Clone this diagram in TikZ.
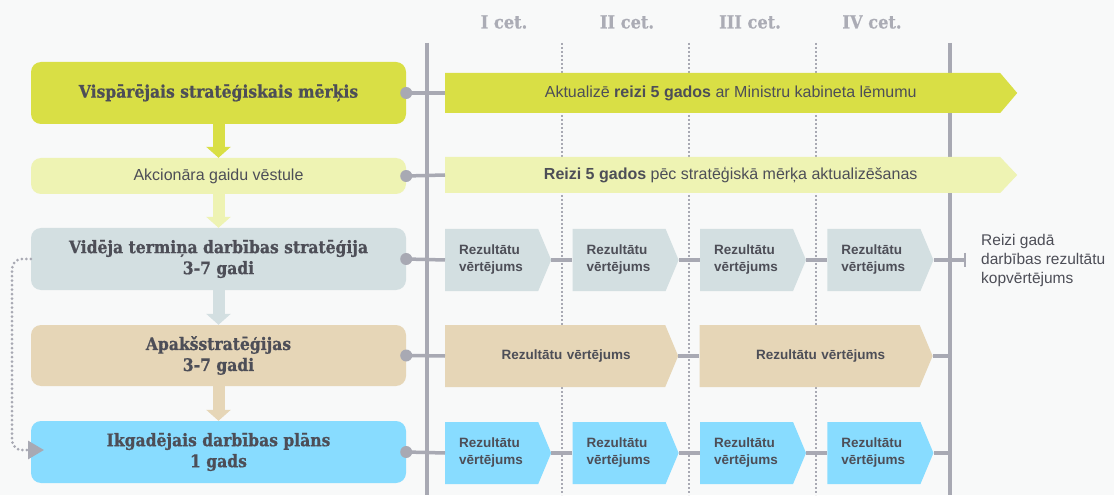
\documentclass[tikz,border=0pt]{standalone}
\usepackage{fontspec}
\setmainfont{Liberation Sans}
\newfontfamily\slab[FakeStretch=0.9, BoldFeatures={FakeBold=0.8}]{DejaVu Serif}
\usetikzlibrary{positioning,arrows.meta,shapes.symbols}
\definecolor{paper}{HTML}{F8F9F9}
\definecolor{lime}{HTML}{D9DF45}
\definecolor{limesoft}{HTML}{EEF3B3}
\definecolor{slate}{HTML}{D3DFE1}
\definecolor{sand}{HTML}{E6D6B7}
\definecolor{sky}{HTML}{88DCFF}
\definecolor{rail}{HTML}{A8A9B3}
\definecolor{ink}{HTML}{4D4E57}
\definecolor{muted}{HTML}{ABACB5}

\begin{document}
\begin{tikzpicture}[
    x=1pt, y=-1pt,
    lbox/.style={rounded corners=10pt, minimum width=375pt, minimum height=62pt,
                 inner sep=0pt, align=center, text=ink,
                 font=\slab\bfseries\fontsize{17.3}{21}\selectfont},
    band/.style={signal, signal to=east, minimum width=572pt, inner sep=0pt,
                 anchor=west, text=ink, font=\fontsize{16}{19}\selectfont},
    chev/.style={signal, signal to=east, signal pointer angle=134.5,
                 minimum width=106pt, minimum height=62pt,
                 inner xsep=14pt, inner ysep=0pt, text width=65pt, align=left,
                 text=ink, font=\bfseries\fontsize{13.5}{17}\selectfont},
    wchev/.style={chev, minimum width=233pt, text width=190pt, align=center},
    head/.style={text=muted, font=\slab\bfseries\fontsize{18}{20}\selectfont},
    link/.style={draw=rail, line width=3.5pt},
    spine/.style={draw=rail, line width=4pt},
    quarter/.style={draw=rail, line width=1.5pt, dash pattern=on 2pt off 2pt},
    flow/.style={line width=12pt, -{Triangle[length=11pt,width=24pt]}},
  ]
  \fill[paper] (0,0) rectangle (1114,495);

  \draw[quarter] (562,43) -- (562,495);
  \draw[quarter] (689,43) -- (689,495);
  \draw[quarter] (816,43) -- (816,495);
  \draw[spine] (427,43) -- (427,495);
  \draw[spine] (950,43) -- (950,495);

  \node[head] (q1) at (504,22) {I cet.};
  \node[head] (q2) at (627,22) {II cet.};
  \node[head] (q3) at (750,22) {III cet.};
  \node[head] (q4) at (872,22) {IV cet.};

  \node[lbox, fill=lime] (goal) at (218.5,93) {Vispārējais stratēģiskais mērķis};
  \node[lbox, fill=limesoft, minimum height=36pt,
        font=\fontsize{16}{19}\selectfont] (letter) at (218.5,176) {Akcionāra gaidu vēstule};
  \node[lbox, fill=slate] (mts) at (218.5,259) {Vidēja termiņa darbības stratēģija\\3-7 gadi};
  \node[lbox, fill=sand, minimum height=61pt] (sub) at (218.5,355.5) {Apakšstratēģijas\\3-7 gadi};
  \node[lbox, fill=sky] (plan) at (218.5,452) {Ikgadējais darbības plāns\\1 gads};

  \draw[flow, lime] (goal.south) -- (letter.north);
  \draw[flow, limesoft] (letter.south) -- (mts.north);
  \draw[flow, slate] (mts.south) -- (sub.north);
  \draw[flow, sand] (sub.south) -- (plan.north);

  \node[band, fill=lime, minimum height=40pt, signal pointer angle=99.3] (goalbar) at (445,93)
    {\hspace*{16pt}Aktualizē \textbf{reizi 5 gados} ar Ministru kabineta lēmumu};
  \node[band, fill=limesoft, minimum height=36pt, signal pointer angle=93.3] (letterbar) at (445,175)
    {\hspace*{16pt}\textbf{Reizi 5 gados} pēc stratēģiskā mērķa aktualizēšanas};

  \node[chev, fill=slate, anchor=west] (m1) at (445,260) {Rezultātu\\vērtējums};
  \node[chev, fill=slate, right=21pt of m1] (m2) {Rezultātu\\vērtējums};
  \node[chev, fill=slate, right=21pt of m2] (m3) {Rezultātu\\vērtējums};
  \node[chev, fill=slate, right=21pt of m3] (m4) {Rezultātu\\vērtējums};

  \node[wchev, fill=sand, anchor=west] (s1) at (445,356) {\hspace*{22pt}Rezultātu vērtējums};
  \node[wchev, fill=sand, right=21pt of s1] (s2) {\hspace*{22pt}Rezultātu vērtējums};

  \node[chev, fill=sky, anchor=west] (p1) at (445,453) {Rezultātu\\vērtējums};
  \node[chev, fill=sky, right=21pt of p1] (p2) {Rezultātu\\vērtējums};
  \node[chev, fill=sky, right=21pt of p2] (p3) {Rezultātu\\vērtējums};
  \node[chev, fill=sky, right=21pt of p3] (p4) {Rezultātu\\vērtējums};

  \node[anchor=west, align=left, inner sep=0pt, text=ink,
        font=\fontsize{15.5}{19}\selectfont] (yearly) at (981,260)
    {Reizi gadā\\darbības rezultātu\\kopvērtējums};

  \coordinate (mtsend) at (966,260);
  \coordinate (subend) at (950,356);
  \coordinate (planend) at (950,453);
  \coordinate (loopin) at (44,450);

  \draw[link] (goal.east) -- (goalbar.west);
  \draw[link] (letter.east) -- (letterbar.west);
  \draw[link] (mts.east) -- (m1.west);
  \draw[link] (sub.east) -- (s1.west);
  \draw[link] (plan.east) -- (p1.west);

  \draw[link] (m1.east) -- (m2.west);
  \draw[link] (m2.east) -- (m3.west);
  \draw[link] (m3.east) -- (m4.west);
  \draw[link, -{Bar[width=14pt,line width=2pt]}] (m4.east) -- (mtsend);
  \draw[link] (s1.east) -- (s2.west);
  \draw[link] (s2.east) -- (subend);
  \draw[link] (p1.east) -- (p2.west);
  \draw[link] (p2.east) -- (p3.west);
  \draw[link] (p3.east) -- (p4.west);
  \draw[link] (p4.east) -- (planend);

  \fill[rail] (goal.east) circle (6pt);
  \fill[rail] (letter.east) circle (6pt);
  \fill[rail] (mts.east) circle (6pt);
  \fill[rail] (sub.east) circle (6pt);
  \fill[rail] (plan.east) circle (6pt);

  \draw[rail, line width=3pt, line cap=round, dash pattern=on 0pt off 4.5pt,
        rounded corners=10pt, -{Triangle[length=16pt,width=18pt]}]
    (mts.west) -- (12,259) -- (12,450) -- (loopin);
\end{tikzpicture}
\end{document}
